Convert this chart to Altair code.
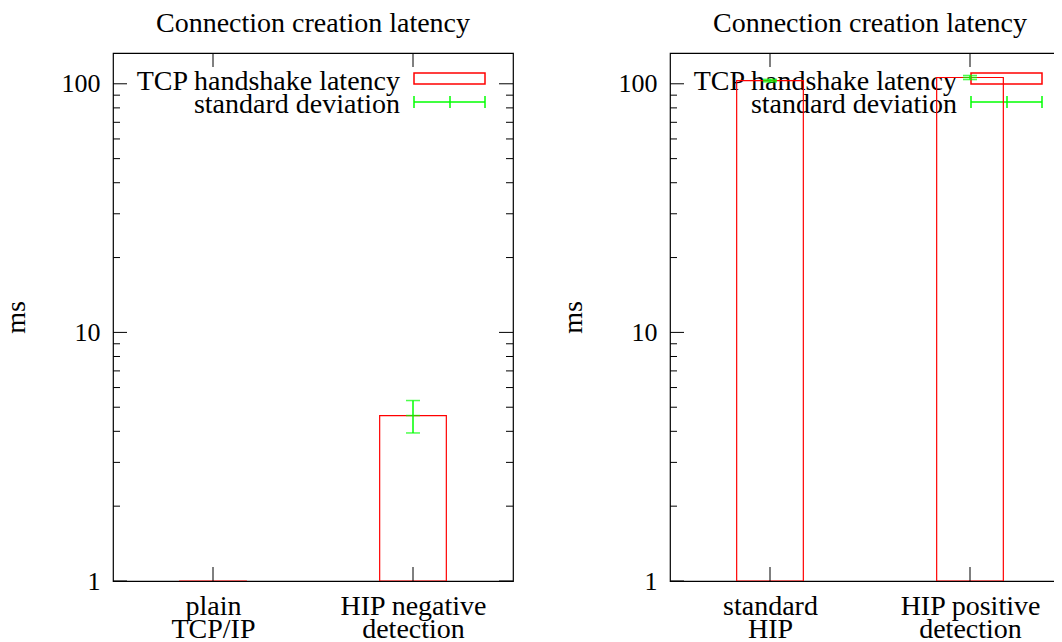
import json
import altair as alt
import pandas as pd

FONT = "Liberation Serif"
RED = "#ff0000"
GREEN = "#00ff00"
FS = 28
FS_Y = 26

title_text = "Connection creation latency"
y_title = "ms"
legend_labels = ["TCP handshake latency", "standard deviation"]

left_categories = ["plain\nTCP/IP", "HIP negative\ndetection"]
left_latency = [0.4, 4.63]
left_std = [0.1, 0.69]

right_categories = ["standard\nHIP", "HIP positive\ndetection"]
right_latency = [103.0, 106.0]
right_std = [1.2, 2.0]

y_major = [1, 10, 100]
y_minor = [2, 3, 4, 5, 6, 7, 8, 9, 20, 30, 40, 50, 60, 70, 80, 90]
y_domain = [1, 133]

W, H = 400, 528


def panel(categories, latency, std):
    n = len(categories)
    pos = list(range(n))
    df = pd.DataFrame({
        "pos": pos,
        "val": latency,
        "lo": [v - s for v, s in zip(latency, std)],
        "hi": [v + s for v, s in zip(latency, std)],
        "base": [1.0] * n,
        "x1": [p - 1 / 6 for p in pos],
        "x2": [p + 1 / 6 for p in pos],
    })
    parts = [json.dumps(c.split("\n")) for c in categories]
    expr = "''"
    for i in reversed(range(n)):
        expr = f"datum.value == {i} ? {parts[i]} : ({expr})"

    xs = alt.Scale(domain=[-0.5, n - 0.5], nice=False, zero=False)
    ys = alt.Scale(type="log", domain=y_domain, nice=False)

    x_axis = alt.Axis(values=pos, labelExpr=expr, ticks=False, domain=False, grid=False,
                      title=None, labelPadding=11, labelLineHeight=23, labelFontSize=FS)
    y_axis = alt.Axis(values=y_major, labelExpr="datum.value", ticks=False, domain=False,
                      grid=False, title=y_title, titlePadding=31, labelPadding=13,
                      labelFontSize=FS_Y, titleFontSize=FS)

    base = alt.Chart(df)
    bars = base.mark_rect(fill=None, fillOpacity=0, stroke=RED, strokeWidth=1.2, clip=True).encode(
        x=alt.X("x1:Q", scale=xs, axis=x_axis),
        x2="x2:Q",
        y=alt.Y("val:Q", scale=ys, axis=y_axis),
        y2="base:Q",
    )
    err = base.mark_rule(color=GREEN, strokeWidth=1.5, clip=True).encode(
        x=alt.X("pos:Q", scale=xs), y=alt.Y("lo:Q", scale=ys), y2="hi:Q")
    caps = []
    for f in ["lo", "hi", "val"]:
        caps.append(base.mark_tick(orient="horizontal", size=14, thickness=1.5, color=GREEN, clip=True).encode(
            x=alt.X("pos:Q", scale=xs), y=alt.Y(f + ":Q", scale=ys)))

    # inward ticks
    tmaj = alt.Chart(pd.DataFrame({"v": y_major}))
    tmin = alt.Chart(pd.DataFrame({"v": y_minor}))
    tx = alt.Chart(pd.DataFrame({"p": pos}))
    ticks = [
        tmaj.mark_rule(color="black").encode(y=alt.Y("v:Q", scale=ys), x=alt.value(0), x2=alt.value(14)),
        tmaj.mark_rule(color="black").encode(y=alt.Y("v:Q", scale=ys), x=alt.value(W - 14), x2=alt.value(W)),
        tmin.mark_rule(color="black").encode(y=alt.Y("v:Q", scale=ys), x=alt.value(0), x2=alt.value(7)),
        tmin.mark_rule(color="black").encode(y=alt.Y("v:Q", scale=ys), x=alt.value(W - 7), x2=alt.value(W)),
        tx.mark_rule(color="black").encode(x=alt.X("p:Q", scale=xs), y=alt.value(H - 14), y2=alt.value(H)),
        tx.mark_rule(color="black").encode(x=alt.X("p:Q", scale=xs), y=alt.value(0), y2=alt.value(14)),
    ]

    # legend
    leg = alt.Chart(pd.DataFrame({"a": [0]}))
    legend = [
        leg.mark_text(text=legend_labels[0], align="right", baseline="middle", font=FONT,
                      fontSize=FS, color="black").encode(x=alt.value(287), y=alt.value(29)),
        leg.mark_text(text=legend_labels[1], align="right", baseline="middle", font=FONT,
                      fontSize=FS, color="black").encode(x=alt.value(287), y=alt.value(52)),
        leg.mark_rect(fill=None, fillOpacity=0, stroke=RED, strokeWidth=1.5).encode(
            x=alt.value(301), x2=alt.value(372), y=alt.value(20), y2=alt.value(31)),
        leg.mark_rule(color=GREEN, strokeWidth=1.5).encode(x=alt.value(301), x2=alt.value(372), y=alt.value(49)),
        leg.mark_rule(color=GREEN, strokeWidth=1.5).encode(x=alt.value(301), y=alt.value(43), y2=alt.value(55)),
        leg.mark_rule(color=GREEN, strokeWidth=1.5).encode(x=alt.value(372), y=alt.value(43), y2=alt.value(55)),
        leg.mark_rule(color=GREEN, strokeWidth=1.5).encode(x=alt.value(337), y=alt.value(43), y2=alt.value(55)),
    ]

    return alt.layer(*legend, bars, err, *caps, *ticks).properties(
        width=W, height=H,
        title=alt.Title(title_text, font=FONT, fontSize=FS, fontWeight="normal", color="black", offset=15),
    )


left = panel(left_categories, left_latency, left_std)
right = panel(right_categories, right_latency, right_std)

chart = alt.hconcat(left, right, spacing=43).properties(
    autosize=alt.AutoSizeParams(type="none"),
    padding={"left": 105, "top": 45, "right": 941, "bottom": 581},
).configure(
    font=FONT,
).configure_view(
    stroke="black", strokeWidth=1.2,
).configure_axis(
    labelFont=FONT, titleFont=FONT, labelColor="black", titleColor="black",
    titleFontWeight="normal",
)

chart.save("out.html", embed_options={"renderer": "svg", "actions": False})
